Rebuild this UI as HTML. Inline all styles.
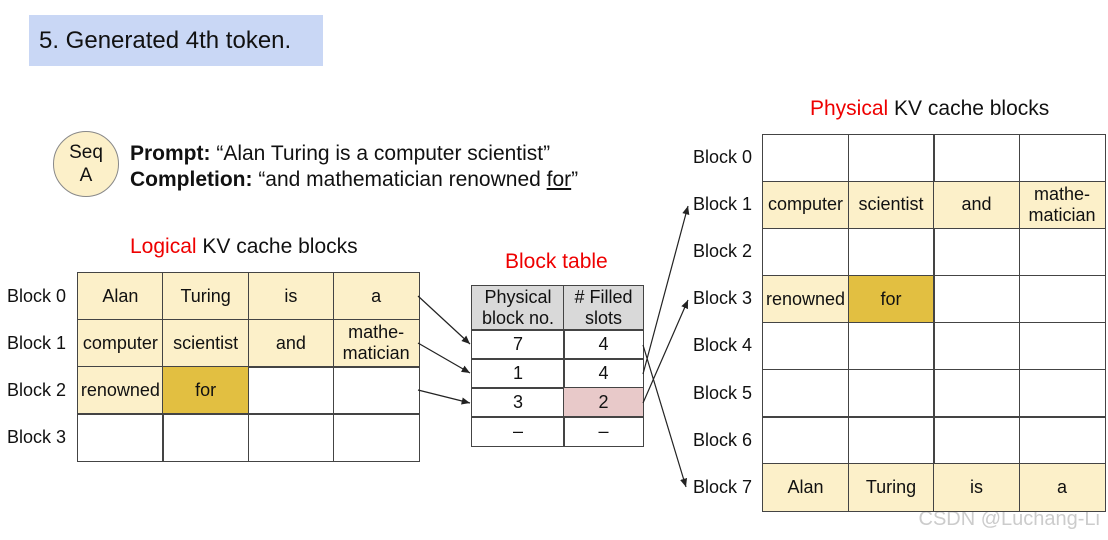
<!DOCTYPE html>
<html><head><meta charset="utf-8"><style>
body{margin:0;width:1108px;height:540px;background:#fff;position:relative;overflow:hidden;font-family:"Liberation Sans",sans-serif;color:#111}
.a{position:absolute}
.c{position:absolute;box-sizing:border-box;border:1.5px solid #444;display:flex;align-items:center;justify-content:center;text-align:center;font-size:18px;line-height:21px}
.y{background:#fcf0c9}.d{background:#e2bf41}.p{background:#e8c9c9}.g{background:#d9d9d9}
.l{position:absolute;font-size:18px}
.r{color:#e00}
</style></head><body>
<div class="a" style="left:29px;top:15px;width:294px;height:51px;background:#c9d7f5"></div>
<div class="a" style="left:39px;top:27px;font-size:24px">5. Generated 4th token.</div>
<div class="a" style="left:53px;top:131px;width:66px;height:66px;border-radius:50%;background:#fcf0c9;border:1.5px solid #888;box-sizing:border-box;text-align:center;font-size:19px;line-height:23px;padding-top:9px">Seq<br>A</div>
<div class="a" style="left:130px;top:141px;font-size:21px;line-height:26px"><b>Prompt:</b> “Alan Turing is a computer scientist”<br><b>Completion:</b> “and mathematician renowned <u>for</u>”</div>
<div class="a" style="left:130px;top:235px;font-size:21px"><span class="r">Logical</span> KV cache blocks</div>
<div class="a" style="left:505px;top:250px;font-size:21px"><span class="r">Block table</span></div>
<div class="a" style="left:810px;top:97px;font-size:21px"><span class="r">Physical</span> KV cache blocks</div>
<div class="a" style="right:8px;top:508px;font-size:20px;color:#ccc">CSDN @Luchang-Li</div>
<div id="L"></div><div id="P"></div>
<div class="c g" style="left:471px;top:285px;width:94px;height:46px">Physical<br>block no.</div>
<div class="c g" style="left:563px;top:285px;width:81px;height:46px"># Filled<br>slots</div>
<div class="c" style="left:471px;top:329px;width:94px;height:31px">7</div><div class="c" style="left:563px;top:329px;width:81px;height:31px">4</div>
<div class="c" style="left:471px;top:358px;width:94px;height:31px">1</div><div class="c" style="left:563px;top:358px;width:81px;height:31px">4</div>
<div class="c" style="left:471px;top:387px;width:94px;height:31px">3</div><div class="c p" style="left:563px;top:387px;width:81px;height:31px">2</div>
<div class="c" style="left:471px;top:416px;width:94px;height:31px">–</div><div class="c" style="left:563px;top:416px;width:81px;height:31px">–</div>
<svg class="a" style="left:0;top:0" width="1108" height="540">
<defs><marker id="m" markerWidth="8" markerHeight="8" refX="7" refY="4" orient="auto"><path d="M0,1 L7,4 L0,7z" fill="#222"/></marker></defs>
<g stroke="#222" stroke-width="1.2" fill="none" marker-end="url(#m)">
<line x1="418" y1="296" x2="470" y2="344"/>
<line x1="418" y1="343" x2="470" y2="373"/>
<line x1="418" y1="390" x2="470" y2="403"/>
<line x1="643" y1="345" x2="686" y2="487"/>
<line x1="643" y1="374" x2="688" y2="206"/>
<line x1="643" y1="403" x2="688" y2="300"/>
</g></svg>
<script>
function cells(id,x0,y0,w,h,rows,lx,names){let s='';rows.forEach((r,i)=>{s+=`<div class="l" style="left:${lx}px;top:${y0+i*h+h/2-10}px">${names}${i}</div>`;r.forEach((c,j)=>{let [t,k]=c;s+=`<div class="c ${k||''}" style="left:${x0+j*w}px;top:${y0+i*h}px;width:${w+1.5}px;height:${h+1.5}px">${t}</div>`})});document.getElementById(id).innerHTML=s}
const E=[['',''],['',''],['',''],['','']];
cells('L',77,272,85.25,47,[[['Alan','y'],['Turing','y'],['is','y'],['a','y']],[['computer','y'],['scientist','y'],['and','y'],['mathe-<br>matician','y']],[['renowned','y'],['for','d'],['',''],['','']],E],7,'Block ');
cells('P',762,133.5,85.5,47.1,[E,[['computer','y'],['scientist','y'],['and','y'],['mathe-<br>matician','y']],E,[['renowned','y'],['for','d'],['',''],['','']],E,E,E,[['Alan','y'],['Turing','y'],['is','y'],['a','y']]],693,'Block ');
</script>
</body></html>
